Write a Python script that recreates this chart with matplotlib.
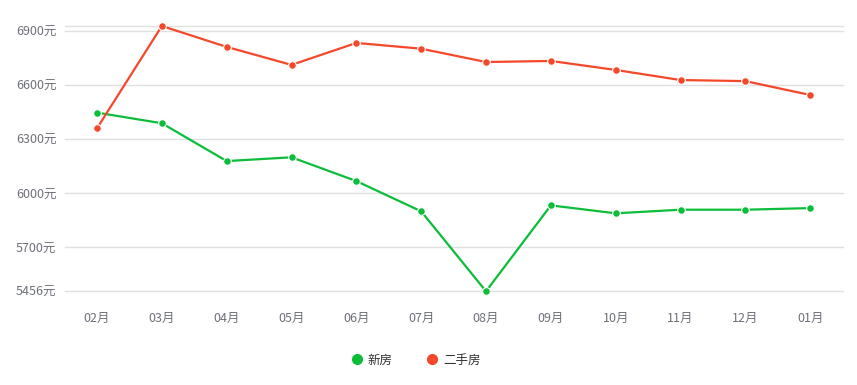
import matplotlib
matplotlib.use("Agg")
import matplotlib.pyplot as plt
from matplotlib.lines import Line2D

plt.rcParams['font.family'] = ['Noto Sans CJK SC', 'DejaVu Sans']

months = ["02月", "03月", "04月", "05月", "06月", "07月", "08月", "09月", "10月", "11月", "12月", "01月"]
new_house = [6448, 6389, 6179, 6200, 6068, 5900, 5456, 5933, 5889, 5909, 5909, 5918]
second_hand = [6361, 6929, 6813, 6713, 6835, 6803, 6729, 6735, 6685, 6629, 6623, 6546]
y_ticks = [5456, 5700, 6000, 6300, 6600, 6900]
series_names = ["新房", "二手房"]
colors = ["#0bbd39", "#f5482a"]

W, H = 857, 385
fig = plt.figure(figsize=(W / 100, H / 100), dpi=100)
left, right, top, bottom = 64.6, 842.6, 26, 291.3
ax = fig.add_axes([left / W, 1 - bottom / H, (right - left) / W, (bottom - top) / H])

x = list(range(len(months)))
for vals, c in zip([new_house, second_hand], colors):
    ax.plot(x, vals, color=c, lw=1.6, marker='o', markersize=5.5,
            markerfacecolor=c, markeredgecolor='white', markeredgewidth=0.8,
            zorder=3, clip_on=False)

ymin = min(new_house)
ymax = max(second_hand)
ax.set_ylim(ymin, ymax)
ax.set_xlim(-0.5, len(months) - 0.5)

ax.set_yticks(y_ticks)
ax.set_yticklabels([f"{v}元" for v in y_ticks])
for v in y_ticks + [ymax]:
    ax.axhline(v, color='#e0e0e0', lw=1, zorder=1, clip_on=False)

ax.set_xticks(x)
ax.set_xticklabels(months)
ax.tick_params(axis='both', length=0, colors='#6e7079', labelsize=9)
ax.tick_params(axis='x', pad=15)
ax.tick_params(axis='y', pad=6)
for s in ax.spines.values():
    s.set_visible(False)

handles = [Line2D([], [], linestyle='none', marker='o', markersize=7,
                  markerfacecolor=c, markeredgecolor=c) for c in colors]
leg = fig.legend(handles, series_names, loc='center', bbox_to_anchor=(0.484, 1 - 360 / H),
                 ncol=2, frameon=False, fontsize=9, handletextpad=0.25, columnspacing=2.6,
                 handlelength=1.2, labelcolor='#333333')

fig.savefig("out.png", dpi=100, facecolor='white')
